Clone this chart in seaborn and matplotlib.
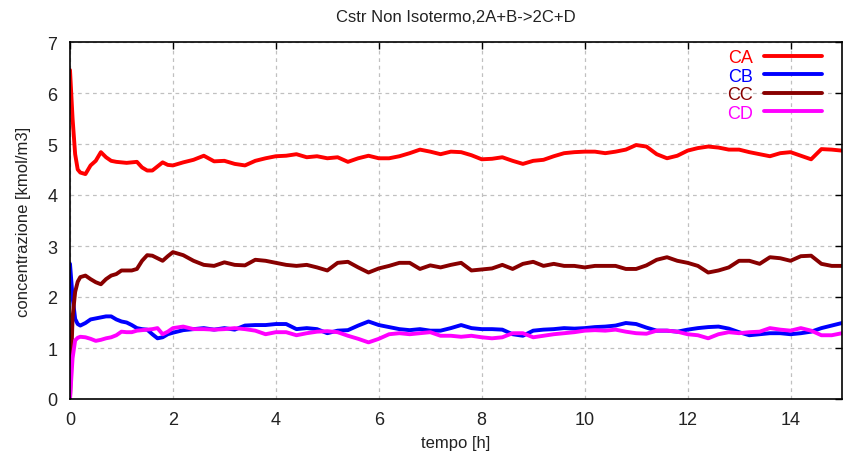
import matplotlib
matplotlib.use('Agg')
import matplotlib.pyplot as plt
import seaborn as sns
import pandas as pd

# time grid (h) and concentrations
tempo = [0, 0.05, 0.1, 0.15,
         0.2, 0.3, 0.4, 0.5, 0.6, 0.7, 0.8, 0.9, 1.0, 1.1, 1.2, 1.3, 1.4, 1.5, 1.6, 1.7, 1.8, 1.9, 2.0,
         2.2, 2.4, 2.6, 2.8, 3.0, 3.2, 3.4, 3.6, 3.8, 4.0, 4.2, 4.4, 4.6, 4.8, 5.0,
         5.2, 5.4, 5.6, 5.8, 6.0, 6.2, 6.4, 6.6, 6.8, 7.0, 7.2, 7.4, 7.6, 7.8, 8.0,
         8.2, 8.4, 8.6, 8.8, 9.0, 9.2, 9.4, 9.6, 9.8, 10.0, 10.2, 10.4, 10.6, 10.8, 11.0,
         11.2, 11.4, 11.6, 11.8, 12.0, 12.2, 12.4, 12.6, 12.8, 13.0, 13.2, 13.4, 13.6, 13.8, 14.0,
         14.2, 14.4, 14.6, 14.8, 15.0]

ca = [6.45, 5.5, 4.8, 4.5,
      4.44, 4.41, 4.58, 4.67, 4.84, 4.74, 4.67, 4.65, 4.64, 4.63, 4.64, 4.65, 4.54, 4.48, 4.48, 4.56, 4.64, 4.59, 4.58,
      4.64, 4.69, 4.77, 4.66, 4.67, 4.61, 4.58, 4.67, 4.72, 4.76, 4.77, 4.80, 4.74, 4.76, 4.72,
      4.74, 4.65, 4.72, 4.77, 4.72, 4.72, 4.76, 4.82, 4.89, 4.85, 4.80, 4.85, 4.84, 4.78, 4.70,
      4.71, 4.74, 4.67, 4.61, 4.67, 4.69, 4.76, 4.82, 4.84, 4.85, 4.85, 4.82, 4.85, 4.89, 4.98,
      4.95, 4.80, 4.72, 4.77, 4.87, 4.92, 4.95, 4.93, 4.89, 4.89, 4.84, 4.80, 4.76, 4.82, 4.84,
      4.77, 4.70, 4.90, 4.89, 4.87]

cb = [2.65, 2.0, 1.57, 1.47,
      1.44, 1.49, 1.56, 1.58, 1.60, 1.62, 1.62, 1.56, 1.52, 1.50, 1.45, 1.39, 1.37, 1.36, 1.27, 1.19, 1.21, 1.27, 1.30,
      1.35, 1.37, 1.39, 1.36, 1.39, 1.36, 1.44, 1.45, 1.45, 1.47, 1.47, 1.37, 1.39, 1.37, 1.29,
      1.34, 1.35, 1.44, 1.52, 1.45, 1.41, 1.37, 1.35, 1.37, 1.34, 1.34, 1.39, 1.45, 1.39, 1.37,
      1.37, 1.36, 1.27, 1.24, 1.34, 1.36, 1.37, 1.39, 1.38, 1.39, 1.41, 1.42, 1.44, 1.49, 1.47,
      1.40, 1.34, 1.34, 1.32, 1.36, 1.39, 1.41, 1.42, 1.38, 1.31, 1.25, 1.27, 1.29, 1.29, 1.27,
      1.29, 1.32, 1.39, 1.44, 1.49]

cc = [0.0, 1.6, 2.1, 2.3,
      2.39, 2.42, 2.35, 2.29, 2.25, 2.35, 2.42, 2.45, 2.52, 2.52, 2.52, 2.55, 2.71, 2.82, 2.81, 2.76, 2.71, 2.80, 2.88,
      2.82, 2.71, 2.63, 2.61, 2.68, 2.63, 2.62, 2.73, 2.71, 2.67, 2.63, 2.61, 2.63, 2.58, 2.52,
      2.67, 2.69, 2.58, 2.48, 2.56, 2.61, 2.67, 2.67, 2.55, 2.62, 2.58, 2.63, 2.67, 2.52, 2.54,
      2.56, 2.63, 2.55, 2.65, 2.69, 2.61, 2.65, 2.61, 2.61, 2.58, 2.61, 2.61, 2.61, 2.55, 2.55,
      2.62, 2.73, 2.78, 2.71, 2.67, 2.61, 2.48, 2.52, 2.58, 2.71, 2.71, 2.65, 2.78, 2.76, 2.71,
      2.80, 2.81, 2.65, 2.61, 2.61]

cd = [0.0, 0.8, 1.15, 1.2,
      1.22, 1.21, 1.18, 1.14, 1.16, 1.19, 1.21, 1.25, 1.32, 1.31, 1.31, 1.34, 1.35, 1.36, 1.37, 1.39, 1.27, 1.32, 1.39,
      1.42, 1.37, 1.37, 1.36, 1.37, 1.39, 1.37, 1.34, 1.27, 1.31, 1.31, 1.25, 1.29, 1.32, 1.33,
      1.31, 1.24, 1.18, 1.11, 1.18, 1.27, 1.29, 1.27, 1.29, 1.31, 1.24, 1.24, 1.22, 1.24, 1.21,
      1.19, 1.21, 1.29, 1.29, 1.21, 1.24, 1.27, 1.29, 1.31, 1.34, 1.35, 1.34, 1.36, 1.32, 1.29,
      1.28, 1.34, 1.34, 1.32, 1.27, 1.25, 1.19, 1.27, 1.31, 1.29, 1.31, 1.32, 1.39, 1.36, 1.34,
      1.39, 1.34, 1.25, 1.25, 1.29]

species = ['CA', 'CB', 'CC', 'CD']
colors = {'CA': '#ff0000', 'CB': '#0000ff', 'CC': '#880000', 'CD': '#ff00ff'}

frames = []
for name, vals in zip(species, [ca, cb, cc, cd]):
    frames.append(pd.DataFrame({'tempo': tempo, 'conc': vals, 'specie': name}))
df = pd.concat(frames, ignore_index=True)

sns.set_style('white')
plt.rcParams['font.family'] = ['Liberation Sans', 'DejaVu Sans']

fig = plt.figure(figsize=(8.43, 4.6), dpi=100)
ax = fig.add_axes([70 / 843, 60 / 460, 772 / 843, 357 / 460])

sns.lineplot(data=df, x='tempo', y='conc', hue='specie', palette=colors,
             estimator=None, sort=False, linewidth=2.8, ax=ax)

ax.set_xlim(0, 15)
ax.set_ylim(0, 7)
ax.set_xticks([0, 2, 4, 6, 8, 10, 12, 14])
ax.set_yticks(range(0, 8))
ax.grid(True, color='#c0c0c0', linestyle=(0, (3, 3)), linewidth=0.9)
ax.set_axisbelow(True)
for s in ax.spines.values():
    s.set_color('black')
    s.set_linewidth(1.2)
ax.tick_params(direction='in', top=True, right=True, length=5, width=1,
               labelsize=13, pad=9, colors='black', labelcolor='#222222')

ax.set_title('Cstr Non Isotermo,2A+B->2C+D', fontsize=12, color='#222222', pad=15)
ax.set_xlabel('tempo [h]', fontsize=12, color='#222222', labelpad=5)
ax.set_ylabel('concentrazione [kmol/m3]', fontsize=12, color='#222222', labelpad=12)

ax.legend(loc='upper right', bbox_to_anchor=(0.995, 1.025), frameon=False,
          markerfirst=False, labelcolor='linecolor', handlelength=3.2,
          labelspacing=0.08, fontsize=13, handletextpad=0.6, title=None)

fig.savefig('out.png', dpi=100)
